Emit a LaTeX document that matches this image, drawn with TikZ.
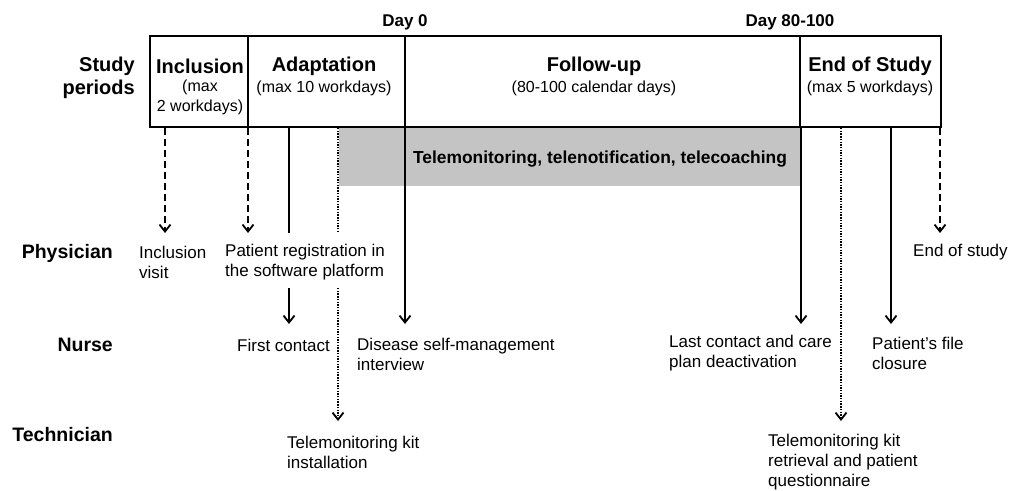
\documentclass[tikz,border=0pt]{standalone}
\usepackage{fontspec}
\setmainfont{Liberation Sans}
\usetikzlibrary{arrows.meta}
\definecolor{bandgray}{RGB}{196,196,196}
\tikzset{
  period/.style={draw, line width=2pt, minimum height=91pt, inner sep=0pt},
  ptitle/.style={font=\fontsize{20}{22}\selectfont\bfseries, inner sep=0pt},
  psub/.style={font=\fontsize{16}{20}\selectfont, inner sep=0pt, align=center},
  rowlab/.style={font=\fontsize{19.5}{23}\selectfont\bfseries, inner sep=0pt, anchor=east, align=right},
  daylab/.style={font=\fontsize{17}{20}\selectfont\bfseries, inner sep=0pt},
  task/.style={font=\fontsize{17}{20}\selectfont, inner sep=0pt, anchor=west, align=left},
  tip/.style={-{Straight Barb[length=7pt,width=11pt,line width=1.8pt]}},
  solidarr/.style={line width=2pt, tip},
  solidline/.style={line width=2pt},
  dasharr/.style={line width=2pt, dash pattern=on 7pt off 4pt, tip},
  dotarr/.style={line width=1.8pt, dash pattern=on 1.4pt off 1.3pt, tip},
  dotline/.style={line width=1.8pt, dash pattern=on 1.4pt off 1.3pt},
}
\begin{document}
\begin{tikzpicture}[x=1pt, y=-1pt]
\useasboundingbox (0,0) rectangle (1011,490);
% gray band
\node[fill=bandgray, minimum width=461pt, minimum height=59pt, inner sep=0pt] (band) at (569.5,156.5) {};
\node[font=\fontsize{17.4}{20}\selectfont\bfseries, inner sep=0pt] (bandtxt) at (600,159) {Telemonitoring, telenotification, telecoaching};
% period boxes
\node[period, minimum width=98pt] (inc) at (199,81.5) {};
\node[period, minimum width=157pt] (ada) at (326.5,81.5) {};
\node[period, minimum width=395pt] (fol) at (602.5,81.5) {};
\node[period, minimum width=141pt] (eos) at (870.5,81.5) {};
\node[ptitle] (incT) at (200,66) {Inclusion};
\node[psub] (incS) at (200,97) {(max\\2 workdays)};
\node[ptitle] (adaT) at (324,66) {Adaptation};
\node[psub] (adaS) at (324,88) {(max 10 workdays)};
\node[ptitle] (folT) at (594,66) {Follow-up};
\node[psub] (folS) at (594,88) {(80-100 calendar days)};
\node[ptitle] (eosT) at (870,66) {End of Study};
\node[psub] (eosS) at (870,88) {(max 5 workdays)};
% day labels
\node[daylab] (day0) at (405,22) {Day 0};
\node[daylab] (day80) at (790,22) {Day 80-100};
% row labels
\node[rowlab, font=\fontsize{20}{23}\selectfont\bfseries] (study) at (135,77.5) {Study\\periods};
\node[rowlab] (phys) at (113,253) {Physician};
\node[rowlab] (nurse) at (113,345) {Nurse};
\node[rowlab] (tech) at (113,435) {Technician};
% tasks
\node[task] (incvisit) at (139,262) {Inclusion\\visit};
\node[task] (reg) at (225,262) {Patient registration in\\the software platform};
\node[task] (endst) at (913,252) {End of study};
\node[task] (first) at (237,345) {First contact};
\node[task] (disease) at (357,354) {Disease self-management\\interview};
\node[task] (last) at (669,353) {Last contact and care\\plan deactivation};
\node[task] (closure) at (872,353) {Patient’s file\\closure};
\node[task] (kitins) at (287,452) {Telemonitoring kit\\installation};
\node[task] (kitret) at (768,462) {Telemonitoring kit\\retrieval and patient\\questionnaire};
% end coordinates
\coordinate (e1) at (165,233);
\coordinate (e2) at (248,233);
\coordinate (e3) at (289,233);
\coordinate (s3) at (289,288);
\coordinate (e3b) at (289,324);
\coordinate (e4) at (338,233);
\coordinate (s4) at (338,288);
\coordinate (e4b) at (338,421);
\coordinate (e5) at (405,324);
\coordinate (e6) at (801,324);
\coordinate (e7) at (841,421);
\coordinate (e8) at (891,324);
\coordinate (e9) at (940,233);
% connectors
\draw[dasharr] (inc.south -| e1) -- (e1);
\draw[dasharr] (inc.south -| e2) -- (e2);
\draw[solidline] (ada.south -| e3) -- (e3);
\draw[solidarr] (s3) -- (e3b);
\draw[dotline] (ada.south -| e4) -- (e4);
\draw[dotarr] (s4) -- (e4b);
\draw[solidarr] (fol.south -| e5) -- (e5);
\draw[solidarr] (eos.south -| e6) -- (e6);
\draw[dotarr] (eos.south -| e7) -- (e7);
\draw[solidarr] (eos.south -| e8) -- (e8);
\draw[dasharr] (eos.south -| e9) -- (e9);
\end{tikzpicture}
\end{document}
